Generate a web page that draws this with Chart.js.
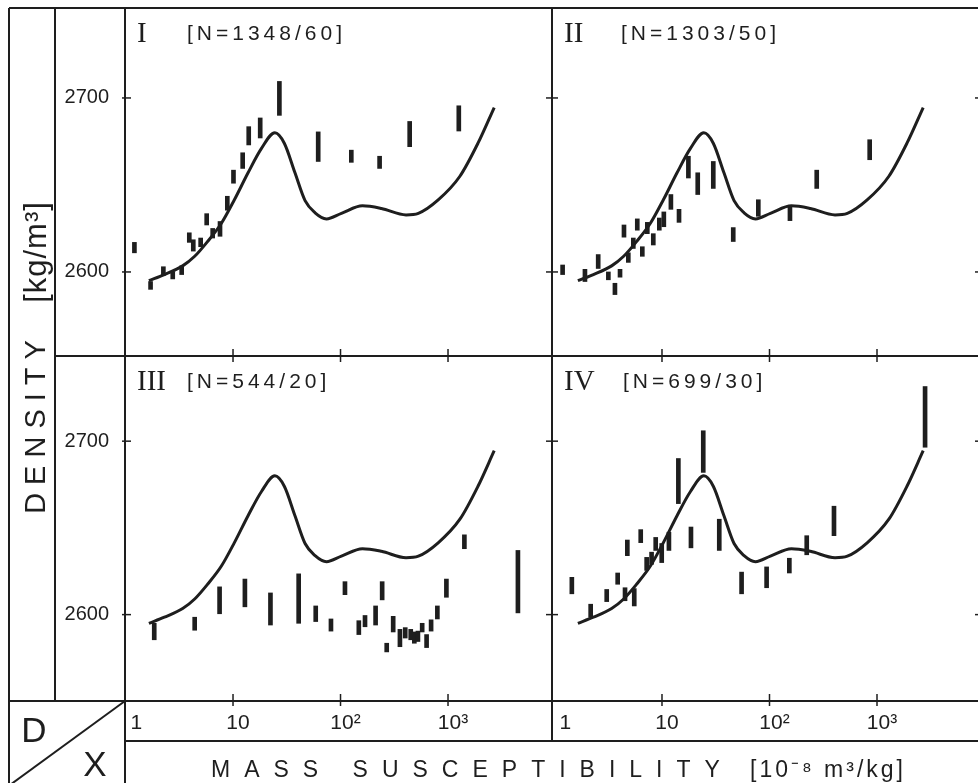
<!DOCTYPE html>
<html>
<head>
<meta charset="utf-8">
<script src="https://cdn.jsdelivr.net/npm/chart.js@4.4.1/dist/chart.umd.min.js"></script>
<style>
  html, body { margin: 0; padding: 0; background: #fff; overflow: hidden; }
  #wrap { width: 990px; height: 783px; }
</style>
</head>
<body>
<div id="wrap"><canvas id="chart" width="990" height="783"></canvas></div>
<script>
// reference curve, the same in all four panels
const curveX = [1.65, 2.3, 3.4, 4.4, 5.8, 7.8, 10.3, 13.8, 18.4, 24.5, 30, 37.7, 46.8, 58, 74, 102, 160, 240, 407, 530, 810, 1290, 1900, 2690];
const curveY = [2595, 2598.5, 2603.5, 2609, 2617.5, 2628, 2641.5, 2657, 2671, 2680, 2674, 2657, 2641, 2634, 2630.5, 2633.7, 2638, 2636.5, 2632.8, 2633.7, 2641.4, 2655, 2674, 2694.5];

// panel I
const xI  = [1.21, 1.71, 2.25, 2.75, 3.33, 3.92, 4.27, 5.0, 5.69, 6.47, 7.57, 8.85, 10.1, 12.3, 14.0, 17.9, 27, 62, 126, 231, 440, 1260];
const loI = [2611, 2590, 2598, 2596, 2598.5, 2617, 2612, 2614.5, 2627, 2619.5, 2620.5, 2635.5, 2651, 2659.5, 2673, 2677, 2690, 2663.5, 2663, 2659.5, 2672, 2681];
const hiI = [2617, 2594.5, 2603, 2600, 2603.5, 2622.5, 2618.5, 2619.5, 2633.5, 2625, 2629, 2643.5, 2658.5, 2668.5, 2683.5, 2688.5, 2709.5, 2680.5, 2670, 2666.5, 2686.5, 2695.5];

// panel II
const xII  = [1.19, 1.92, 2.55, 3.17, 3.65, 4.07, 4.43, 4.86, 5.41, 5.89, 6.56, 7.3, 8.3, 9.44, 10.4, 12.1, 14.4, 17.6, 21.5, 30, 46, 78.7, 155, 275, 855];
const loII = [2598.5, 2594.5, 2602, 2595.5, 2587, 2597, 2620, 2605.5, 2613.5, 2624, 2609, 2622, 2615.5, 2624, 2626, 2636, 2628.5, 2654, 2644.5, 2648, 2617.5, 2632, 2629.5, 2648, 2664.5];
const hiII = [2604, 2601.5, 2610, 2600, 2593.5, 2601.5, 2627, 2611, 2619.5, 2630.5, 2614.5, 2628.5, 2622, 2631, 2634.5, 2644.5, 2636, 2666.5, 2657, 2663.5, 2625.5, 2641.5, 2637.5, 2658.5, 2676];

// panel III
const xIII  = [1.85, 4.4, 7.5, 12.9, 22.3, 40.8, 58.8, 81.5, 110, 148, 169, 212, 244, 269, 309, 357, 400, 450, 486, 525, 575, 632, 696, 796, 966, 1420, 4470];
const loIII = [2585.5, 2591, 2600.5, 2604.5, 2594, 2595, 2596, 2590.5, 2611.5, 2588.5, 2593, 2594, 2608.5, 2578.5, 2590, 2581.5, 2586.5, 2585.5, 2583.5, 2584.5, 2590, 2581, 2590.5, 2597.5, 2610, 2638, 2601];
const hiIII = [2595, 2598.5, 2616, 2620.5, 2612.5, 2623.5, 2605, 2597.5, 2619, 2596.5, 2599.5, 2605, 2619, 2583.5, 2599, 2591.5, 2592.5, 2591.5, 2590, 2590.5, 2595, 2588.5, 2597, 2605, 2620.5, 2646, 2637];

// panel IV
const xIV  = [1.45, 2.17, 3.06, 3.87, 4.53, 4.76, 5.52, 6.34, 7.2, 8.0, 8.74, 9.94, 11.6, 14.2, 18.6, 24.2, 34.1, 55, 94, 153, 222, 398, 2800];
const loIV = [2612, 2598.5, 2607.5, 2617.5, 2608, 2634, 2605, 2641.5, 2625.5, 2629, 2637, 2630, 2637, 2664, 2638.5, 2682, 2637, 2612, 2615.5, 2624, 2634.5, 2645.5, 2696.5];
const hiIV = [2621.5, 2606, 2614.5, 2624, 2615.5, 2643, 2615, 2649, 2633, 2636, 2644.5, 2641, 2647.5, 2690, 2650.5, 2706, 2655, 2624.5, 2627.5, 2632.5, 2645.5, 2662.5, 2731.5];

// ticks and labels
const xTicks = [1, 10, 100, 1000];
const xTickLabels = ['1', '10', '10²', '10³'];
const yTicks = [2600, 2700];
const yTickLabels = ['2600', '2700'];
const romanLabels = ['I', 'II', 'III', 'IV'];
const countLabels = ['[N=1348/60]', '[N=1303/50]', '[N=544/20]', '[N=699/30]'];

const ink = '#1e1e1e';
const sans = "'Liberation Sans', Arial, sans-serif";
const serif = "'Liberation Serif', 'Times New Roman', serif";

function bars(xs, lo, hi, xID, yID) {
    return {
        type: 'bar',
        data: xs.map((x, i) => ({x: x, y: [lo[i], hi[i]]})),
        xAxisID: xID,
        yAxisID: yID,
        backgroundColor: ink,
        borderWidth: 0,
        grouped: false,
        barThickness: 4
    };
}

function curve(xID, yID) {
    return {
        type: 'line',
        data: curveX.map((x, i) => ({x: x, y: curveY[i]})),
        xAxisID: xID,
        yAxisID: yID,
        borderColor: ink,
        borderWidth: 3,
        pointRadius: 0,
        fill: false,
        cubicInterpolationMode: 'monotone'
    };
}

function xScale(min, max, weight, stackWeight) {
    return {
        type: 'logarithmic',
        position: 'bottom',
        stack: 'cols',
        stackWeight: stackWeight,
        weight: weight,
        min: min,
        max: max,
        offset: false,
        afterBuildTicks: s => { s.ticks = xTicks.map(v => ({value: v})).concat([{value: max}]); },
        afterFit: s => { s.height = 40; s.paddingLeft = 0; s.paddingRight = 0; },
        grid: {display: false, drawTicks: false, offset: false},
        border: {display: false},
        ticks: {
            align: 'inner',
            autoSkip: false,
            maxRotation: 0,
            padding: 10,
            labelOffset: 5,
            color: ink,
            font: {family: sans, size: 21},
            callback: (v, i) => xTickLabels[i] || ''
        }
    };
}

function yScale(min, max, weight, stackWeight) {
    return {
        type: 'linear',
        position: 'left',
        stack: 'rows',
        stackWeight: stackWeight,
        weight: weight,
        min: min,
        max: max,
        afterBuildTicks: s => { s.ticks = yTicks.map(v => ({value: v})); },
        afterFit: s => { s.width = 70; s.paddingTop = 0; s.paddingBottom = 0; },
        grid: {display: false, drawTicks: false},
        border: {display: false},
        ticks: {
            padding: 16,
            color: ink,
            font: {family: sans, size: 20},
            callback: (v, i) => yTickLabels[i]
        }
    };
}

function seg(ctx, x1, y1, x2, y2) {
    ctx.beginPath();
    ctx.moveTo(x1, y1);
    ctx.lineTo(x2, y2);
    ctx.stroke();
}

// frame, tick crosses and the hand-set labels of the figure
const framePlugin = {
    id: 'frame',
    beforeDatasetsDraw(chart) {
        const {ctx, width, height, chartArea: ca} = chart;
        const {xL, xR, yT, yB} = chart.scales;
        const outer = 9, labelCol = 55;
        const mid = xL.right, rowMid = yT.bottom, axisBottom = xL.bottom;
        ctx.save();
        ctx.strokeStyle = ink;
        ctx.lineWidth = 2;
        seg(ctx, outer, ca.top, width, ca.top);
        seg(ctx, outer, ca.top, outer, height);
        seg(ctx, labelCol, ca.top, labelCol, ca.bottom);
        seg(ctx, ca.left, ca.top, ca.left, height);
        seg(ctx, mid, ca.top, mid, axisBottom);
        seg(ctx, ca.right, ca.top, ca.right, axisBottom);
        seg(ctx, labelCol, rowMid, width, rowMid);
        seg(ctx, outer, ca.bottom, width, ca.bottom);
        seg(ctx, ca.left, axisBottom, width, axisBottom);
        seg(ctx, ca.left, ca.bottom, outer, ca.bottom + (ca.left - outer) * 0.73);

        ctx.lineWidth = 1.5;
        [yT, yB].forEach(ys => yTicks.forEach(v => {
            const y = ys.getPixelForValue(v);
            seg(ctx, ca.left - 3, y, ca.left + 6, y);
            seg(ctx, mid - 6, y, mid + 6, y);
            seg(ctx, ca.right - 8, y, ca.right, y);
        }));
        [xL, xR].forEach(xs => xTicks.slice(1).forEach(v => {
            const x = xs.getPixelForValue(v);
            seg(ctx, x, rowMid - 7, x, rowMid + 6);
            seg(ctx, x, ca.bottom - 7, x, ca.bottom + 5);
        }));
        ctx.restore();
    },
    afterDraw(chart) {
        const {ctx} = chart;
        const {xL, xR, yT, yB} = chart.scales;
        const panels = [[xL, yT, 62], [xR, yT, 69], [xL, yB, 62], [xR, yB, 71]];
        ctx.save();
        ctx.fillStyle = ink;
        ctx.textBaseline = 'alphabetic';
        panels.forEach((p, i) => {
            const x0 = p[0].left, y0 = p[1].top;
            ctx.letterSpacing = '0px';
            ctx.font = '29px ' + serif;
            ctx.fillText(romanLabels[i], x0 + 12, y0 + 34);
            ctx.letterSpacing = '4px';
            ctx.font = '21px ' + sans;
            ctx.fillText(countLabels[i], x0 + p[2], y0 + 32);
        });

        // axis names
        ctx.save();
        ctx.translate(45, 423);
        ctx.rotate(-Math.PI / 2);
        ctx.textAlign = 'center';
        ctx.font = '29px ' + sans;
        ctx.letterSpacing = '8px';
        ctx.fillText('DENSITY', 0, 0);
        ctx.restore();
        ctx.save();
        ctx.translate(46, 252);
        ctx.rotate(-Math.PI / 2);
        ctx.textAlign = 'center';
        ctx.font = '31px ' + sans;
        ctx.letterSpacing = '1px';
        ctx.fillText('[kg/m³]', 0, 0);
        ctx.restore();

        ctx.font = '23px ' + sans;
        ctx.letterSpacing = '14px';
        ctx.fillText('MASS SUSCEPTIBILITY', 211, 777);
        ctx.letterSpacing = '3px';
        ctx.fillText('[10⁻⁸ m³/kg]', 750, 777);

        ctx.letterSpacing = '0px';
        ctx.textAlign = 'center';
        ctx.font = '35px ' + sans;
        ctx.fillText('D', 34, 742);
        ctx.fillText('X', 95, 776);
        ctx.restore();
    }
};

new Chart(document.getElementById('chart'), {
    type: 'line',
    data: {
        datasets: [
            bars(xI, loI, hiI, 'xL', 'yT'),
            bars(xII, loII, hiII, 'xR', 'yT'),
            bars(xIII, loIII, hiIII, 'xL', 'yB'),
            bars(xIV, loIV, hiIV, 'xR', 'yB'),
            curve('xL', 'yT'),
            curve('xR', 'yT'),
            curve('xL', 'yB'),
            curve('xR', 'yB')
        ]
    },
    options: {
        responsive: false,
        animation: false,
        layout: {padding: {left: 55, top: 8, right: 7, bottom: 42}},
        plugins: {
            legend: {display: false},
            tooltip: {enabled: false},
            title: {display: false}
        },
        scales: {
            xL: xScale(0.989, 9275, 0, 427),
            xR: xScale(0.948, 9683, 1, 431),
            yB: yScale(2550.2, 2749.1, 0, 345),
            yT: yScale(2551.7, 2751.7, 1, 348)
        }
    },
    plugins: [framePlugin]
});
</script>
</body>
</html>
